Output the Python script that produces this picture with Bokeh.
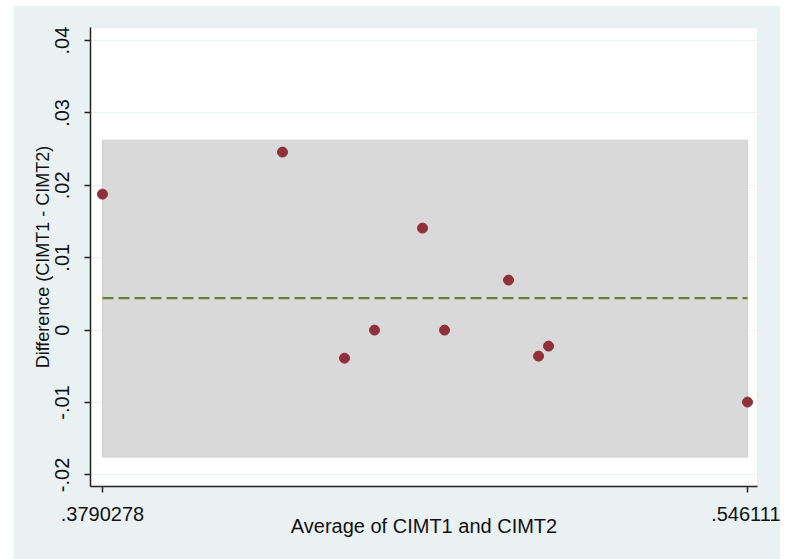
from bokeh.plotting import figure
from bokeh.models import FixedTicker, Range1d, Spacer
from bokeh.layouts import row, column
from bokeh.embed import file_html
from bokeh.resources import INLINE

# Data
avg = [0.3790278, 0.42566, 0.44172, 0.44949, 0.46193, 0.46763, 0.48421, 0.49198, 0.49457, 0.546111]
diff = [0.01878, 0.02459, -0.00387, 0.0, 0.01409, 0.0, 0.00691, -0.00359, -0.00221, -0.00994]
mean_diff = 0.00442
lower_loa = -0.01754
upper_loa = 0.02624

ytick_vals = [-0.02, -0.01, 0, 0.01, 0.02, 0.03, 0.04]
ytick_labels = ["-.02", "-.01", "0", ".01", ".02", ".03", ".04"]
xtick_vals = [0.3790278, 0.546111]
xtick_labels = [".3790278", ".546111"]

BG = "#E9F1F3"
FONT = "Liberation Sans"
TXT = "#111111"

p = figure(width=767, height=554, output_backend="svg", toolbar_location=None,
           x_range=Range1d(0.375919, 0.548701), y_range=Range1d(-0.0216, 0.0418),
           min_border_left=77, min_border_right=23, min_border_top=22, min_border_bottom=73)
p.background_fill_color = "white"
p.border_fill_color = BG
p.outline_line_color = "#E3EDF0"

xmin, xmax = min(avg), max(avg)
p.quad(left=[xmin], right=[xmax], bottom=[lower_loa], top=[upper_loa],
       fill_color="#D9D9D9", line_color="#CFCFCF", line_width=1)
p.line([xmin, xmax], [mean_diff, mean_diff], line_color="#63812F", line_width=2.2,
       line_dash="11 5")
p.scatter(avg, diff, size=10, fill_color="#903038", line_color="#903038")

# axes
p.xaxis.ticker = FixedTicker(ticks=xtick_vals)
p.xaxis.major_label_overrides = dict(zip(xtick_vals, xtick_labels))
p.yaxis.ticker = FixedTicker(ticks=ytick_vals)
p.yaxis.major_label_overrides = dict(zip(ytick_vals, ytick_labels))
p.yaxis.major_label_orientation = "vertical"

p.xaxis.axis_label = "Average of CIMT1 and CIMT2"
p.yaxis.axis_label = "Difference (CIMT1 - CIMT2)"

for ax in (p.xaxis[0], p.yaxis[0]):
    ax.axis_line_color = "#222222"
    ax.axis_line_width = 1.5
    ax.major_tick_line_color = "#222222"
    ax.major_tick_line_width = 1.5
    ax.major_tick_out = 6
    ax.major_tick_in = 0
    ax.minor_tick_line_color = None
    ax.major_label_text_font = FONT
    ax.major_label_text_font_size = "20px"
    ax.major_label_text_color = TXT
    ax.axis_label_text_font = FONT
    ax.axis_label_text_font_style = "normal"
    ax.axis_label_text_color = TXT

p.xaxis.axis_label_text_font_size = "20px"
p.yaxis.axis_label_text_font_size = "18px"
p.xaxis.major_label_standoff = 14
p.xaxis.axis_label_standoff = -9
p.yaxis.major_label_standoff = 15
p.yaxis.axis_label_standoff = 0

p.xgrid.grid_line_color = None
p.ygrid.grid_line_color = BG
p.ygrid.grid_line_width = 1.2

layout = column(Spacer(width=780, height=5), row(Spacer(width=13, height=554), p))
open("out.html", "w").write(file_html(layout, INLINE))
